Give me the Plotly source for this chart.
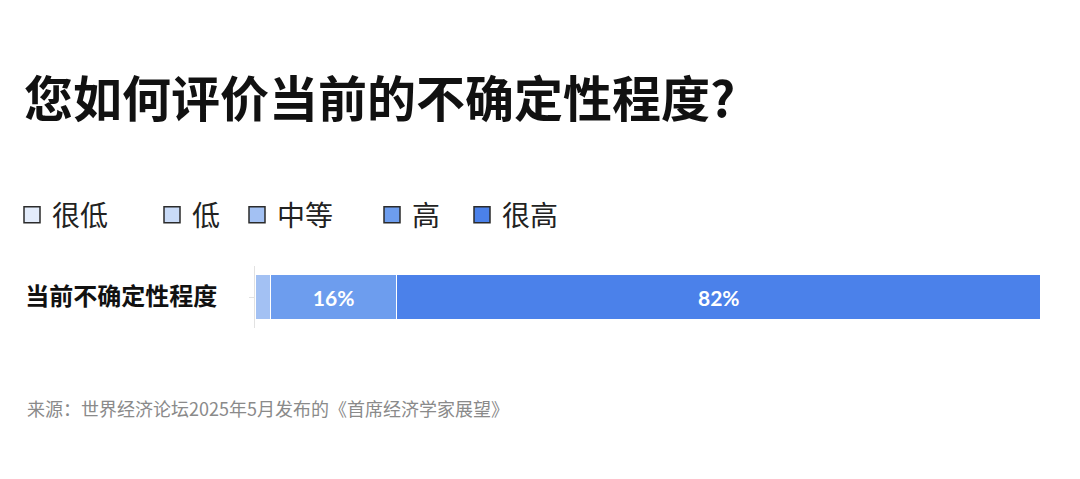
import plotly.graph_objects as go

# survey result, WEF Chief Economists Outlook May 2025
title = "您如何评价当前的不确定性程度?"
category = "当前不确定性程度"
levels = ["很低", "低", "中等", "高", "很高"]
shares = [0, 0, 2, 16, 82]
colors = ["#e3ecfb", "#c9dbf8", "#a3c1f3", "#6d9dee", "#4b81ea"]
source = "来源：世界经济论坛2025年5月发布的《首席经济学家展望》"

CJK = "Noto Sans CJK SC"
W, H = 1080, 479

# legend x positions (px)
legend_x = [4, 144, 229, 364, 454]

fig = go.Figure()
for i, (lvl, val, col) in enumerate(zip(levels, shares, colors)):
    fig.add_trace(go.Bar(
        x=[val], y=[category], orientation="h", name=lvl,
        marker=dict(color=col, line=dict(color="white", width=1.5)),
        text=[f"<b>{val}%</b>" if val >= 5 else ""], textposition="inside",
        insidetextanchor="middle",
        textfont=dict(family="Lato", size=21, color="white"),
        showlegend=False, hoverinfo="skip",
    ))
    # legend-only entry with the dark outlined swatch
    fig.add_trace(go.Scatter(
        x=[None], y=[None], mode="markers", name=lvl,
        marker=dict(symbol="square", size=16, color=col,
                    line=dict(color="#2b2b2b", width=1.5)),
        legend="legend" if i == 0 else f"legend{i + 1}",
    ))

legends = {}
for i, lx in enumerate(legend_x):
    key = "legend" if i == 0 else f"legend{i + 1}"
    legends[key] = dict(
        xref="container", yref="container", x=lx / W, y=1 - 207 / H,
        xanchor="left", yanchor="middle", bgcolor="rgba(0,0,0,0)",
        font=dict(family=CJK, size=28, color="#222"), itemwidth=30,
    )

# page body adds ~8px offset, so the plot box is shifted back by that much
fig.update_layout(
    width=W, height=H, barmode="stack", bargap=0.26,
    plot_bgcolor="white", paper_bgcolor="white",
    margin=dict(l=247, r=47, t=258, b=159, autoexpand=False),
    title=dict(text=f"<b>{title}</b>", xref="container", yref="container",
               x=16 / W, y=1 - 92 / H, xanchor="left", yanchor="middle",
               font=dict(family=CJK, size=49, color="#111")),
    xaxis=dict(range=[0, 100], visible=False, fixedrange=True),
    yaxis=dict(showline=True, linecolor="#e2e2e2", linewidth=1,
               ticks="outside", ticklen=5, tickcolor="#e2e2e2",
               tickfont=dict(family=CJK, size=24, color="#111"),
               ticklabelstandoff=27, tickprefix="<b>", ticksuffix="</b>",
               automargin=False, fixedrange=True),
    annotations=[dict(text=source, xref="paper", yref="paper",
                      x=(17 - 247) / 786, y=(320 - 400) / 62,
                      xanchor="left", yanchor="middle", showarrow=False,
                      font=dict(family=CJK, size=18, color="#8a8a8a"))],
    **legends,
)

fig.write_html("out.html")
